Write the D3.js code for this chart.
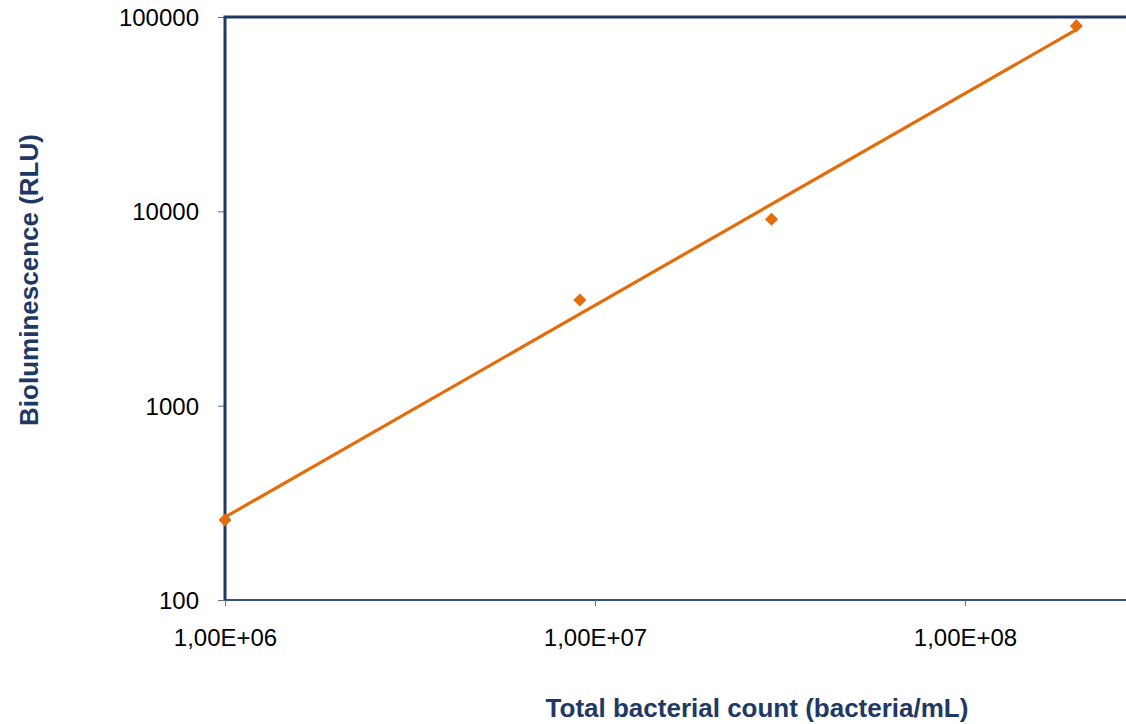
<!DOCTYPE html>
<html>
<head>
<meta charset="utf-8">
<script src="https://cdn.jsdelivr.net/npm/d3@7"></script>
<style>
  body { margin: 0; background: #fff; }
  text { font-family: "Liberation Sans", Arial, sans-serif; }
</style>
</head>
<body>
<svg id="chart" width="1126" height="724"></svg>
<script>
// measured points (bacteria/mL vs RLU)
var counts = [1.0e6, 9.1e6, 3.0e7, 2.0e8];
var rlu = [258, 3500, 9100, 90000];
var yTicks = [100, 1000, 10000, 100000];
var xTicks = [1e6, 1e7, 1e8];
var xTickLabels = ["1,00E+06", "1,00E+07", "1,00E+08"];

var navy = "#1f3864",
    orange = "#e46c0a";

var pL = 225, pT = 17, pR = 1126, pB = 600;

var svg = d3.select("#chart");

var x = d3.scaleLog()
    .domain([1e6, 1e6 * Math.pow(10, (pR - pL) / 370)])
    .range([pL, pR]);

var y = d3.scaleLog()
    .domain([100, 100000])
    .range([pB, pT]);

//power trendline: least squares on log values
var lx = counts.map(function(d) { return Math.log10(d); }),
    ly = rlu.map(function(d) { return Math.log10(d); });
var mx = d3.mean(lx), my = d3.mean(ly);
var sxy = d3.sum(lx, function(d, i) { return (d - mx) * (ly[i] - my); }),
    sxx = d3.sum(lx, function(d) { return (d - mx) * (d - mx); });
var slope = sxy / sxx, icpt = my - slope * mx;
var trend = [counts[0], counts[counts.length - 1]].map(function(c) {
  return [c, Math.pow(10, icpt + slope * Math.log10(c))];
});

//bottom axis
var xAxis = svg.append("g")
    .attr("transform", "translate(0," + pB + ")")
    .call(d3.axisBottom(x).tickValues(xTicks).tickSize(6)
      .tickFormat(function(d, i) { return xTickLabels[i]; }));
xAxis.select(".domain").attr("stroke", "#34507e").attr("stroke-width", 2)
    .attr("d", "M" + pL + ",0H" + pR);
xAxis.selectAll(".tick line").attr("stroke", "#5a6f94");
xAxis.selectAll(".tick text")
    .attr("y", 46).attr("dy", 0)
    .style("font-size", "24px").style("fill", "#000");

//left axis
var yAxis = svg.append("g")
    .attr("transform", "translate(" + pL + ",0)")
    .call(d3.axisLeft(y).tickValues(yTicks).tickSize(7)
      .tickFormat(d3.format("d")));
yAxis.select(".domain").remove();
yAxis.selectAll(".tick line").attr("stroke", "#5a6f94");
yAxis.selectAll(".tick text")
    .attr("x", -26).attr("dy", "0.36em")
    .style("font-size", "24px").style("fill", "#000");

//frame: left and top
svg.append("path")
    .attr("d", "M" + pL + "," + pB + "V" + pT + "H" + pR)
    .attr("fill", "none")
    .attr("stroke", navy)
    .attr("stroke-width", 3);

//trend line
svg.append("path")
    .datum(trend)
    .attr("d", d3.line().x(function(d) { return x(d[0]); }).y(function(d) { return y(d[1]); }))
    .attr("fill", "none")
    .attr("stroke", orange)
    .attr("stroke-width", 3.2);

//points
svg.selectAll(".pt")
    .data(counts)
    .enter().append("path")
    .attr("class", "pt")
    .attr("d", d3.symbol().type(d3.symbolSquare).size(85))
    .attr("transform", function(d, i) { return "translate(" + x(d) + "," + y(rlu[i]) + ") rotate(45)"; })
    .attr("fill", orange);

//titles
svg.append("text")
    .attr("x", 757).attr("y", 717)
    .attr("text-anchor", "middle")
    .style("font-size", "26px").style("font-weight", "bold").style("fill", navy)
    .text("Total bacterial count (bacteria/mL)");

svg.append("text")
    .attr("transform", "translate(38,280) rotate(-90)")
    .attr("text-anchor", "middle")
    .style("font-size", "26px").style("font-weight", "bold").style("fill", navy)
    .text("Bioluminescence (RLU)");
</script>
</body>
</html>
